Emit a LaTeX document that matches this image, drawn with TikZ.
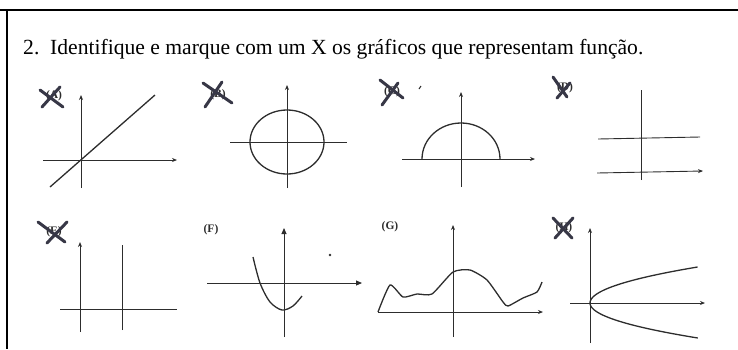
\documentclass[tikz,border=0pt]{standalone}
\usepackage{fontspec}
\setmainfont{Liberation Serif}
\usetikzlibrary{arrows.meta}
\definecolor{ink}{RGB}{45,45,45}
\definecolor{pen}{RGB}{55,55,70}

\begin{document}
\begin{tikzpicture}[x=1pt, y=-1pt,
    axis/.style={draw=ink, line width=0.9pt},
    axisarrow/.style={axis, -{Stealth[length=5pt, width=4pt]}},
    solidarrow/.style={axis, -{Triangle[length=6pt, width=5pt]}},
    graph/.style={draw=ink, line width=1.3pt},
    tag/.style={font=\bfseries\fontsize{11.5}{13}\selectfont, text=ink, inner sep=0pt},
    cross/.style={draw=pen, line width=3pt, line cap=round}
]
\useasboundingbox (0,0) rectangle (738,349);
% frame
\draw[line width=1.5pt] (0,10) -- (738,10);
\draw[line width=1.5pt] (7,10) -- (7,349);

\node[anchor=base west, inner sep=0pt, font=\fontsize{21.6}{26}\selectfont] (title) at (23,54)
  {2.\ \ Identifique e marque com um X os gráficos que representam função.};

% (A) straight line
\coordinate (oA) at (81,160);
\draw[axisarrow] (43,160) -- (177,160);
\draw[axisarrow] (81,188) -- (81,95);
\draw[graph] (50,187) -- (155,95);
\node[tag] (tagA) at (54,96) {(A)};
\draw[cross] (40,90) -- (63,107);
\draw[cross] (42,107) -- (60,87);

% (B) circle
\coordinate (oB) at (287,142);
\draw[axis] (230,142) -- (347,142);
\draw[axisarrow] (287,188) -- (287,85);
\draw[graph] (oB) ellipse[x radius=37, y radius=32];
\node[tag] (tagB) at (218,95) {(B)};
\draw[cross] (203,83) -- (232,103);
\draw[cross] (205,107) -- (222,82);

% (C) half circle
\coordinate (oC) at (461,159);
\draw[axisarrow] (402,159) -- (535,159);
\draw[axisarrow] (461,187) -- (461,92);
\draw[graph] (422,159) arc[start angle=180, end angle=360, x radius=39, y radius=36];
\node[tag] (tagC) at (392,92) {(C)};
\draw[cross] (380,80) -- (403,98);
\draw[cross] (382,105) -- (398,83);
\draw[ink, line width=1pt] (419,89) -- (421,86);

% (D) two horizontal lines
\coordinate (oD) at (641,173);
\draw[axis] (641,180) -- (641,90);
\draw[axis] (598,139) -- (700,137);
\draw[axisarrow] (597,173) -- (703,171);
\node[tag] (tagD) at (565,88) {(D)};
\draw[cross] (553,77) -- (567,97);
\draw[cross] (557,98) -- (570,83);

% (E) two vertical lines
\coordinate (oE) at (80,309);
\draw[axis] (60,309) -- (177,309);
\draw[axisarrow] (80,332) -- (80,242);
\draw[axis] (122,330) -- (122,245);
\node[tag] (tagE) at (54,232) {(E)};
\draw[cross] (38,222) -- (65,242);
\draw[cross] (47,243) -- (67,222);

% (F) parabola
\coordinate (oF) at (284,283);
\draw[solidarrow] (207,283) -- (362,283);
\draw[solidarrow] (284,337) -- (284,228);
\draw[graph] plot[smooth] coordinates {(253,257) (260,283) (270,302) (282,310) (293,306) (302,296)};
\fill[ink] (330,255) circle[radius=1.3pt];
\node[tag] (tagF) at (211,230) {(F)};

% (G) free curve
\coordinate (oG) at (453,312);
\draw[axisarrow] (378,312) -- (543,312);
\draw[axisarrow] (453,337) -- (453,225);
\draw[graph] plot[smooth, tension=0.35] coordinates {(378,312) (390,285) (403,297) (417,294)
  (432,294) (453,272) (470,270) (487,280) (503,302) (508,306) (523,298) (537,292) (542,282)};
\node[tag] (tagG) at (390,227) {(G)};

% (H) sideways parabola
\coordinate (oH) at (590,303);
\draw[axisarrow] (570,303) -- (705,303);
\draw[axisarrow] (590,343) -- (590,228);
\draw[graph] plot[domain=0:36, samples=30] ({590+0.083*\x*\x}, {303-\x});
\draw[graph] plot[domain=0:35, samples=30] ({590+0.088*\x*\x}, {303+\x});
\node[tag] (tagH) at (564,228) {(H)};
\draw[cross] (553,218) -- (572,238);
\draw[cross] (555,238) -- (573,218);
\end{tikzpicture}
\end{document}
